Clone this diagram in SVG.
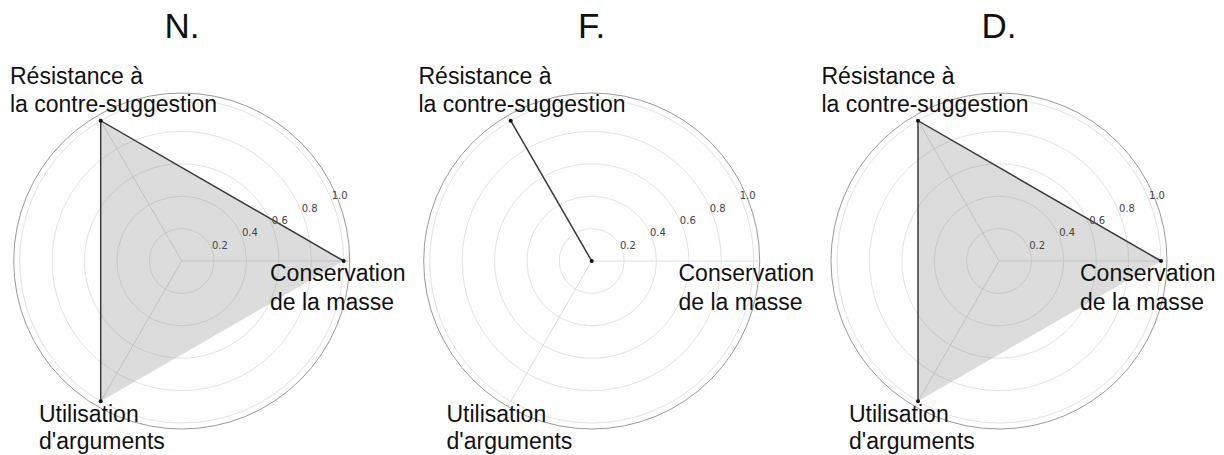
<svg xmlns="http://www.w3.org/2000/svg" width="1224" height="455" viewBox="0 0 1224 455">
<style>
.grid{fill:none;stroke:#e3e3e3;stroke-width:1}
.spine{fill:none;stroke:#9a9a9a;stroke-width:1}
.spoke{stroke:#dcdcdc;stroke-width:1}
.area{fill:#808080;fill-opacity:0.28;stroke:none}
.line{fill:none;stroke:#3a3a3a;stroke-width:1.5}
.dot{fill:#111}
.tick{font-family:"DejaVu Sans",sans-serif;font-size:10px;fill:#444;text-anchor:middle;dominant-baseline:central}
.lab{font-family:"Liberation Sans",Arial,sans-serif;font-size:23px;fill:#111}
.title{font-family:"Liberation Sans",Arial,sans-serif;font-size:35px;fill:#111;text-anchor:middle}
</style>
<defs>
<g id="axes">
<circle class="grid" r="32.4"/>
<circle class="grid" r="64.8"/>
<circle class="grid" r="97.2"/>
<circle class="grid" r="129.6"/>
<circle class="grid" r="162"/>
<line class="spoke" x1="0" y1="0" x2="168" y2="0"/>
<line class="spoke" x1="0" y1="0" x2="-84" y2="-145.5"/>
<line class="spoke" x1="0" y1="0" x2="-84" y2="145.5"/>
<circle class="spine" r="168"/>
</g>
<g id="ticks">
<text class="tick" x="38.2" y="-15.8">0.2</text>
<text class="tick" x="68.2" y="-28.2">0.4</text>
<text class="tick" x="98.1" y="-40.6">0.6</text>
<text class="tick" x="128" y="-53">0.8</text>
<text class="tick" x="158" y="-65.4">1.0</text>
</g>
</defs>

<g id="chart-N">
<text class="title" x="182" y="38">N.</text>
<g transform="translate(181.7,261)">
<use href="#axes"/>
<polygon class="area" points="162,0 -81,-140.3 -81,140.3"/>
<polyline class="line" points="162,0 -81,-140.3 -81,140.3"/>
<circle class="dot" cx="162" cy="0" r="2"/>
<circle class="dot" cx="-81" cy="-140.3" r="2"/>
<circle class="dot" cx="-81" cy="140.3" r="2"/>
<use href="#ticks"/>
</g>
<text class="lab" x="10" y="84">Résistance à</text>
<text class="lab" x="10" y="112">la contre-suggestion</text>
<text class="lab" x="270" y="281">Conservation</text>
<text class="lab" x="270" y="310">de la masse</text>
<text class="lab" x="39" y="421.5">Utilisation</text>
<text class="lab" x="39" y="448.5">d'arguments</text>
</g>

<g id="chart-F">
<text class="title" x="591.7" y="38">F.</text>
<g transform="translate(591.7,261)">
<use href="#axes"/>
<polyline class="line" points="0,0 -81,-140.3 0,0"/>
<circle class="dot" cx="0" cy="0" r="2"/>
<circle class="dot" cx="-81" cy="-140.3" r="2"/>
<g transform="translate(-2,0)"><use href="#ticks"/></g>
</g>
<text class="lab" x="418.5" y="84">Résistance à</text>
<text class="lab" x="418.5" y="112">la contre-suggestion</text>
<text class="lab" x="678.5" y="281">Conservation</text>
<text class="lab" x="678.5" y="310">de la masse</text>
<text class="lab" x="446.5" y="421.5">Utilisation</text>
<text class="lab" x="446.5" y="448.5">d'arguments</text>
</g>

<g id="chart-D">
<text class="title" x="999" y="38">D.</text>
<g transform="translate(999,261)">
<use href="#axes"/>
<polygon class="area" points="162,0 -81,-140.3 -81,140.3"/>
<polyline class="line" points="162,0 -81,-140.3 -81,140.3"/>
<circle class="dot" cx="162" cy="0" r="2"/>
<circle class="dot" cx="-81" cy="-140.3" r="2"/>
<circle class="dot" cx="-81" cy="140.3" r="2"/>
<use href="#ticks"/>
</g>
<text class="lab" x="821.5" y="84">Résistance à</text>
<text class="lab" x="821.5" y="112">la contre-suggestion</text>
<text class="lab" x="1080" y="281">Conservation</text>
<text class="lab" x="1080" y="310">de la masse</text>
<text class="lab" x="849" y="421.5">Utilisation</text>
<text class="lab" x="849" y="448.5">d'arguments</text>
</g>
</svg>
